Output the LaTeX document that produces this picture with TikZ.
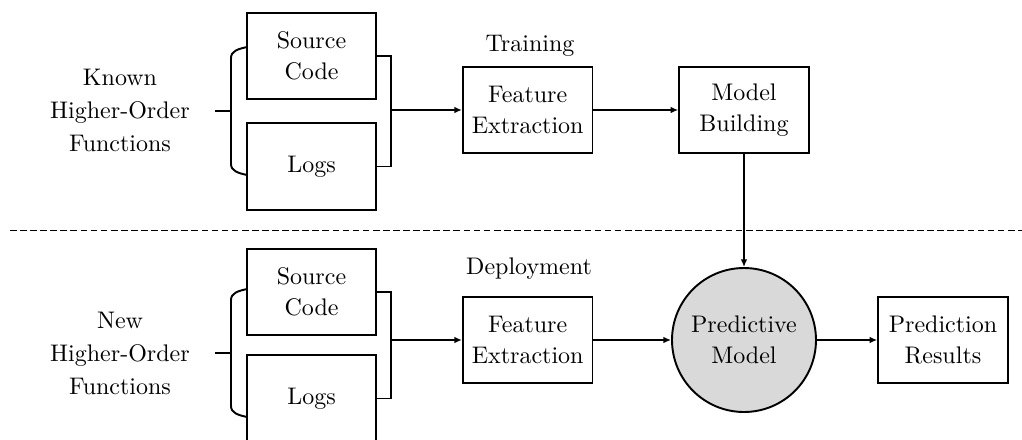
\documentclass[tikz,border=0pt]{standalone}
\usetikzlibrary{arrows.meta}
\begin{document}
\begin{tikzpicture}[x=0.4167pt, y=-0.4167pt, >={Latex[length=3.2pt,width=2.8pt]},
		box/.style={draw, thick, minimum width=54pt, minimum height=36pt, inner sep=0pt, align=center, font=\fontsize{10}{13}\selectfont},
		label/.style={align=center, inner sep=0pt, font=\fontsize{10}{13.75}\selectfont},
		brace/.style={thick}]
		\useasboundingbox (0,0) rectangle (1022,439);

		% Training row
		\node[label] (knownL) at (120,110) {Known\\Higher-Order\\Functions};
		\node[box] (srcK) at (311.5,56) {Source\\Code};
		\node[box] (logK) at (311.5,166.5) {Logs};
		\node[label] (trainL) at (530,46) {Training};
		\node[box] (featK) at (527.7,110) {Feature\\Extraction};
		\node[box] (build) at (744,110) {Model\\Building};

		% Brackets round the training inputs
		\coordinate (kIn) at (231,111);
		\coordinate (kOut) at (391,110);
		\draw[brace] (kIn) -- +(-16,0);
		\draw[brace] (kIn) ++(16,-64) .. controls +(-9,2) and +(0,-7) .. ++(-16,11) -- ++(0,106) .. controls +(0,7) and +(-9,-2) .. ++(16,11);
		\draw[brace] (srcK.east) -| (kOut) |- (logK.east);
		\draw[thick,->] (kOut) -- (featK);
		\draw[thick,->] (featK) -- (build);

		% Separator
		\draw[dash pattern=on 2.8pt off 1.4pt] (10,230) -- (1022,230);

		% Deployment row
		\node[label] (newL) at (120,353) {New\\Higher-Order\\Functions};
		\node[box] (srcN) at (311.5,292) {Source\\Code};
		\node[box] (logN) at (311.5,398.5) {Logs};
		\node[label] (deployL) at (529,269) {Deployment};
		\node[box] (featN) at (527.7,340) {Feature\\Extraction};
		\node[draw, thick, circle, fill=gray!30, minimum size=60pt, inner sep=0pt, align=center, font=\fontsize{10}{13}\selectfont] (model) at (744,340) {Predictive\\Model};
		\node[box] (result) at (943,340) {Prediction\\Results};

		% Brackets round the new inputs
		\coordinate (nIn) at (231,353);
		\coordinate (nOut) at (391,340);
		\draw[brace] (nIn) -- +(-16,0);
		\draw[brace] (nIn) ++(16,-64) .. controls +(-9,2) and +(0,-7) .. ++(-16,11) -- ++(0,106) .. controls +(0,7) and +(-9,-2) .. ++(16,11);
		\draw[brace] (srcN.east) -| (nOut) |- (logN.east);
		\draw[thick,->] (nOut) -- (featN);
		\draw[thick,->] (featN) -- (model);
		\draw[thick,->] (model) -- (result);

		% Trained model feeds the predictor
		\draw[thick,->] (build) -- (model);
	\end{tikzpicture}
\end{document}
